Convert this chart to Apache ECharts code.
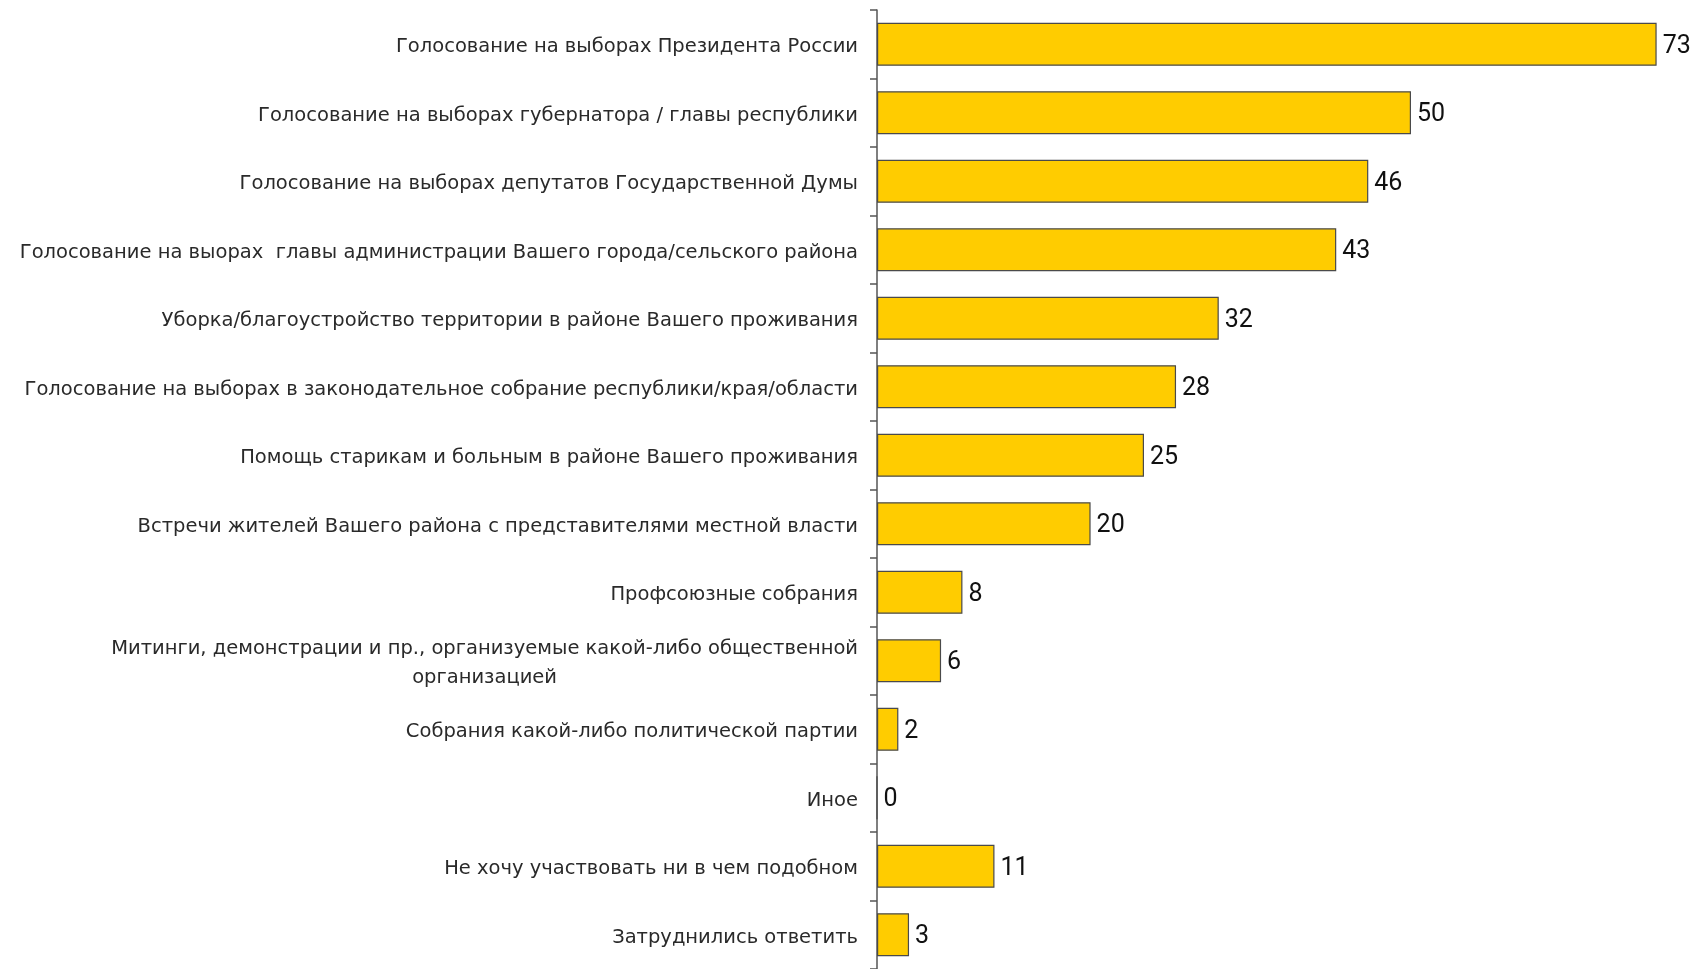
<!DOCTYPE html>
<html>
<head>
<meta charset="utf-8">
<script src="https://cdn.jsdelivr.net/npm/echarts@6/dist/echarts.min.js"></script>
<style>
html,body{margin:0;padding:0;background:#fff;}
#chart{width:1706px;height:969px;}
</style>
</head>
<body>
<div id="chart"></div>
<script>
const categories = [
  'Голосование на выборах Президента России',
  'Голосование на выборах губернатора / главы республики',
  'Голосование на выборах депутатов Государственной Думы',
  'Голосование на выорах  главы администрации Вашего города/сельского района',
  'Уборка/благоустройство территории в районе Вашего проживания',
  'Голосование на выборах в законодательное собрание республики/края/области',
  'Помощь старикам и больным в районе Вашего проживания',
  'Встречи жителей Вашего района с представителями местной власти',
  'Профсоюзные собрания',
  'Митинги, демонстрации и пр., организуемые какой-либо общественной\nорганизацией',
  'Собрания какой-либо политической партии',
  'Иное',
  'Не хочу участвовать ни в чем подобном',
  'Затруднились ответить'
];
const values = [73, 50, 46, 43, 32, 28, 25, 20, 8, 6, 2, 0, 11, 3];

const chart = echarts.init(document.getElementById('chart'), null, {renderer: 'canvas'});
chart.setOption({
  animation: false,
  backgroundColor: '#ffffff',
  grid: {left: 877, top: 10, width: 801, height: 965, containLabel: false},
  xAxis: {
    type: 'value', min: 0, max: 75, show: false
  },
  yAxis: {
    type: 'category',
    inverse: true,
    data: categories,
    axisLine: {show: true, lineStyle: {color: '#555', width: 1.5}},
    axisTick: {show: true, length: 7, lineStyle: {color: '#555', width: 1.5}},
    splitLine: {show: false},
    axisLabel: {
      margin: 19,
      color: '#2a2a2a',
      fontFamily: 'DejaVu Sans',
      fontSize: 19.5,
      lineHeight: 29,
      align: 'right',
      padding: [6, 0, 0, 0],
      formatter: function (v) {
        return v.split('\n').map(function (s) { return '{c|' + s + '}'; }).join('\n');
      },
      rich: {c: {align: 'center', fontFamily: 'DejaVu Sans', fontSize: 19.5, color: '#2a2a2a', lineHeight: 29}}
    }
  },
  series: [{
    type: 'bar',
    data: values,
    barWidth: 43,
    itemStyle: {color: '#FFCC00', borderColor: '#4a4a4a', borderWidth: 1.2},
    label: {
      show: true,
      position: 'right',
      distance: 6,
      offset: [0, 2],
      color: '#111',
      fontFamily: 'Roboto',
      fontSize: 25
    }
  }]
});
</script>
</body>
</html>
